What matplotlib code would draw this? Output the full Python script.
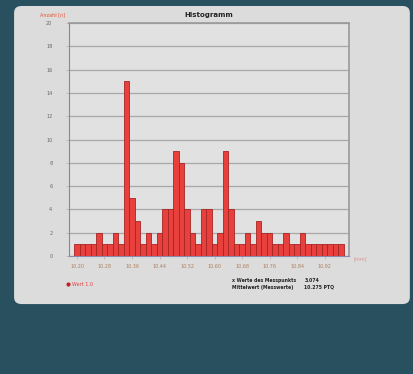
import numpy as np
import matplotlib
matplotlib.use("Agg")
import matplotlib.pyplot as plt
from matplotlib.patches import FancyBboxPatch
from matplotlib.lines import Line2D

# histogram counts per bin
counts = [1, 1, 1, 1, 2, 1, 1, 2, 1, 15,
          5, 3, 1, 2, 1, 2, 4, 4, 9, 8,
          4, 2, 1, 4, 4, 1, 2, 9, 4, 1,
          1, 2, 1, 3, 2, 2, 1, 1, 2, 1,
          1, 2, 1, 1, 1, 1, 1, 1, 1]
tick_bins = [0, 5, 10, 15, 20, 25, 30, 35, 40, 45]
tick_labels = ["10.20", "10.28", "10.36", "10.44", "10.52",
               "10.60", "10.68", "10.76", "10.84", "10.92"]
y_ticks = list(range(0, 21, 2))
stat_names = ["x Werte des Messpunkts", "Mittelwert (Messwerte)"]
stat_values = ["3.074", "10.275 PTQ"]

fig = plt.figure(figsize=(4.14, 3.74), dpi=100)
fig.patch.set_facecolor("#28505f")

# light grey card behind the chart
card = FancyBboxPatch((0.034, 0.187), 0.956, 0.797,
                      boxstyle="round,pad=0,rounding_size=0.018",
                      transform=fig.transFigure, facecolor="#dcdcdc",
                      edgecolor="none", zorder=-5)
fig.patches.append(card)

ax = fig.add_axes([0.1667, 0.3155, 0.6763, 0.623])
ax.set_zorder(2)
ax.set_facecolor("#e1e1e1")

x = np.arange(len(counts))
ax.bar(x, counts, width=1.0, color="#e8403c", edgecolor="#a82424", linewidth=0.6, zorder=3)

ax.set_xlim(-1.45, 49.45)
ax.set_ylim(0, 20)
ax.set_yticks(y_ticks)
ax.set_yticklabels([str(t) for t in y_ticks], fontsize=3.5, color="#666666")
ax.set_xticks(tick_bins)
ax.set_xticklabels(tick_labels, fontsize=3.5, color="#b08060")
ax.tick_params(axis="both", length=2, width=0.4, color="#c89090")
ax.tick_params(axis="y", pad=10)
ax.tick_params(axis="x", pad=4)
ax.yaxis.grid(True, color="#a8a8a8", linewidth=0.9, zorder=1)
ax.set_axisbelow(True)

for side in ["top", "right"]:
    ax.spines[side].set_color("#999999")
    ax.spines[side].set_linewidth(1.2)
ax.spines["left"].set_color("#888888")
ax.spines["bottom"].set_color("#8888aa")

ax.set_title("Histogramm", fontsize=5, fontweight="bold", color="#222222", pad=4)
fig.text(0.097, 0.960, "Anzahl [n]", fontsize=3.5, color="#e05030", ha="left", va="center")
fig.text(0.855, 0.307, "[mm]", fontsize=3.5, color="#e09090", ha="left", va="center")

# legend entry under the chart
fig.lines.append(Line2D([0.165], [0.240], marker="o", markersize=2, color="#c02030",
                        transform=fig.transFigure))
fig.text(0.175, 0.240, "Wert 1.0", fontsize=3.5, color="#e04040", ha="left", va="center")

# summary statistics
for i, (name, val) in enumerate(zip(stat_names, stat_values)):
    yy = 0.251 - i * 0.019
    fig.text(0.560, yy, name, fontsize=3.3, fontweight="bold", color="#222222", va="center")
    fig.text(0.735, yy, val, fontsize=3.3, fontweight="bold", color="#222222", va="center")

fig.savefig("out.png", dpi=100, facecolor=fig.get_facecolor())
